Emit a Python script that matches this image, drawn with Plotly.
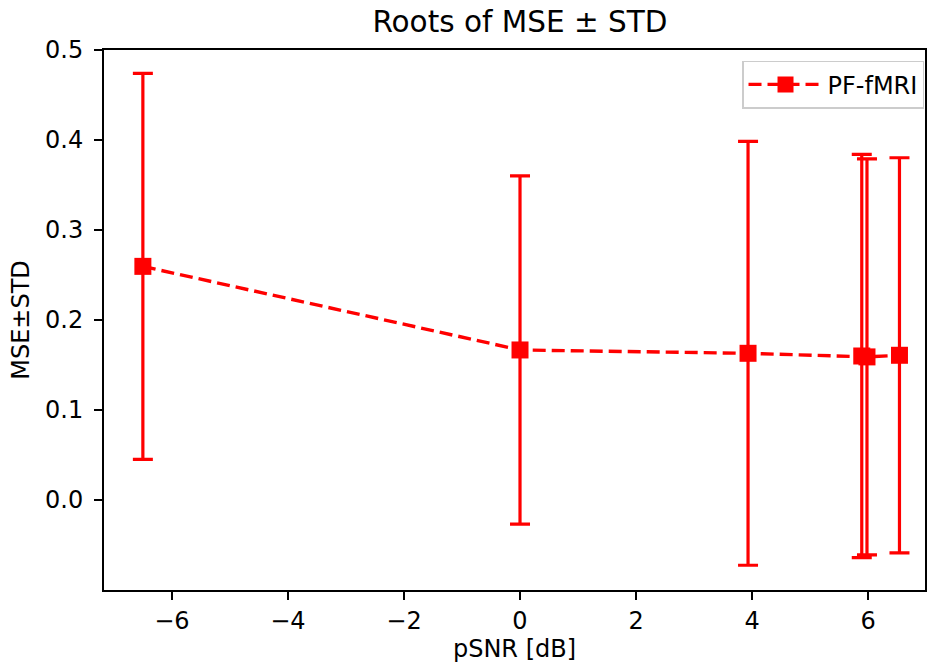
import plotly.graph_objects as go

psnr = [-6.5, 0.0, 3.93, 5.89, 5.98, 6.54]
mse = [0.2596, 0.1667, 0.163, 0.160, 0.159, 0.1608]
std = [0.2145, 0.1935, 0.2355, 0.224, 0.220, 0.2195]
series_name = "PF-fMRI"
x_ticks = [-6, -4, -2, 0, 2, 4, 6]
y_ticks = [0.0, 0.1, 0.2, 0.3, 0.4, 0.5]

red = "#ff0000"
font = "DejaVu Sans"

fig = go.Figure()
fig.add_trace(go.Scatter(
    x=psnr, y=mse, name=series_name, mode="lines+markers",
    line=dict(color=red, width=3.4, dash="13px,6px"),
    marker=dict(symbol="square", size=17, color=red),
    error_y=dict(type="data", array=std, visible=True, color=red,
                 thickness=3.2, width=10),
))

axis_common = dict(
    showgrid=False, zeroline=False, showline=True, mirror=True,
    linecolor="black", linewidth=1.9, ticks="outside",
    ticklen=8, tickwidth=1.9, tickcolor="black", automargin=False,
    tickfont=dict(size=24),
)

fig.update_layout(
    template="none",
    width=928, height=671,
    margin=dict(l=104, r=3, t=50, b=81, pad=0),
    paper_bgcolor="white", plot_bgcolor="white",
    font=dict(family=font, size=24, color="black"),
    title=dict(text="Roots of MSE ± STD", x=0.5603, xanchor="center",
               xref="container", y=0.967, yanchor="middle",
               font=dict(size=29.5)),
    showlegend=True,
    legend=dict(x=0.9988, y=0.98, xanchor="right", yanchor="top",
                bordercolor="#cccccc", borderwidth=1.5, itemwidth=74,
                bgcolor="rgba(255,255,255,0.8)", font=dict(size=24)),
    xaxis=dict(range=[-7.17, 6.98], tickvals=x_ticks,
               title=dict(text="pSNR [dB]", standoff=4, font=dict(size=24)),
               ticklabelstandoff=0, **axis_common),
    yaxis=dict(range=[-0.1, 0.5], tickvals=y_ticks, tickformat=".1f",
               title=dict(text="MSE±STD", standoff=9, font=dict(size=24)),
               ticklabelstandoff=6, **axis_common),
)

fig.write_html("out.html", config={"displayModeBar": False},
               post_script="document.body.style.margin='0';")
